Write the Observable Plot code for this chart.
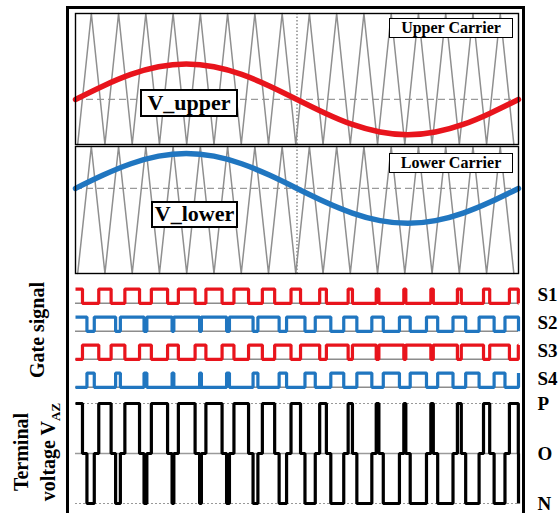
<!DOCTYPE html>
<html><head><meta charset="utf-8">
<script src="https://cdn.jsdelivr.net/npm/d3@7"></script>
<script src="https://cdn.jsdelivr.net/npm/@observablehq/plot@0.6"></script>
<style>
body{margin:0;background:#fff;}
#wrap{position:relative;width:560px;height:513px;overflow:hidden;font-family:"Liberation Serif","Times New Roman",serif;background:#fff;}
.pl{position:absolute;left:0;}
.box{position:absolute;background:#fff;border:2px solid #000;font-family:"Liberation Serif","Times New Roman",serif;font-weight:bold;text-align:center;box-sizing:border-box;white-space:nowrap;color:#000;}
.rot{position:absolute;transform:translate(-50%,-50%) rotate(-90deg);font-family:"Liberation Serif","Times New Roman",serif;font-weight:bold;font-size:20px;white-space:nowrap;text-align:center;line-height:27px;color:#000;}
#frame{position:absolute;left:66px;top:6px;width:459px;height:520px;border:3.5px solid #000;border-bottom:none;box-sizing:border-box;pointer-events:none;}
</style></head><body><div id="wrap"></div>
<script>
// ---- data ----
const tMin = -0.08, tMax = 16.17;               // time axis in carrier periods
const carrierT = [0,0.5,1,1.5,2,2.5,3,3.5,4,4.5,5,5.5,6,6.5,7,7.5,8,8.5,9,9.5,10,10.5,11,11.5,12,12.5,13,13.5,14,14.5,15,15.5,16];
const carrierV = [0,1,0,1,0,1,0,1,0,1,0,1,0,1,0,1,0,1,0,1,0,1,0,1,0,1,0,1,0,1,0,1,0];
const sineT    = [-0.08,0.936,1.951,2.967,3.983,4.998,6.014,7.029,8.045,9.061,10.076,11.092,12.108,13.123,14.139,15.154,16.17];
const upperRef = [0.344,0.447,0.535,0.593,0.614,0.593,0.535,0.447,0.344,0.241,0.153,0.095,0.074,0.095,0.153,0.241,0.344];
const lowerRef = [0.670,0.775,0.864,0.924,0.945,0.924,0.864,0.775,0.670,0.565,0.476,0.416,0.395,0.416,0.476,0.565,0.670];
const upperCenter = [0.344], lowerCenter = [0.670];
const zeroCrossT = [8.045];
const troughT  = [0,1,2,3,4,5,6,7,8,9,10,11,12,13,14,15,16];
const s1Duty   = [0.352,0.453,0.538,0.595,0.614,0.593,0.536,0.451,0.349,0.246,0.158,0.098,0.074,0.090,0.143,0.227,0.326];
const s2Duty   = [0.679,0.782,0.868,0.925,0.945,0.924,0.866,0.779,0.675,0.570,0.481,0.420,0.395,0.411,0.465,0.551,0.652];
const gateNames = ["S1","S2","S3","S4"];
const gateColors = ["#e8141c","#2076c0","#e8141c","#2076c0"];
const levelValues = [-1,0,1];
const levelNames  = ["N","O","P"];

const RED = "#e8141c", BLUE = "#2076c0", GREY = "#8f8f8f";
const wrap = document.getElementById("wrap");
const clamp = t => Math.max(tMin, Math.min(tMax, t));

function place(el, top){ el.classList.add("pl"); el.style.top = top + "px"; wrap.appendChild(el); }

function carrierPanel(ref, center, color, top, height){
  const carrier = carrierT.map((t,i)=>({t, v: carrierV[i]}));
  const sine = sineT.map((t,i)=>({t, v: ref[i]}));
  const p = Plot.plot({
    width:560, height, marginLeft:75, marginRight:42, marginTop:3, marginBottom:3,
    x:{domain:[tMin,tMax], axis:null}, y:{domain:[0,1], axis:null},
    style:{background:"transparent", overflow:"visible"},
    marks:[
      Plot.ruleY(center, {stroke:"#9a9a9a", strokeWidth:1.3, strokeDasharray:"7,4"}),
      Plot.ruleX(zeroCrossT, {stroke:"#8a8a8a", strokeWidth:1.5, strokeDasharray:"1.5,2"}),
      Plot.line(carrier, {x:"t", y:"v", stroke:GREY, strokeWidth:1.5}),
      Plot.line(sine, {x:"t", y:"v", curve:"natural", stroke:color, strokeWidth:5.5}),
      Plot.frame({stroke:"#000", strokeWidth:1.4})
    ]
  });
  place(p, top);
}
carrierPanel(upperRef, upperCenter, RED, 10, 137);
carrierPanel(lowerRef, lowerCenter, BLUE, 143, 133);

// ---- gate signals ----
function pulseTrain(sig, duty, invert){
  const hi = invert ? 0 : 1, lo = invert ? 1 : 0;
  let rows = [];
  troughT.forEach((k,i)=>{
    const a = clamp(k - duty[i]/2), b = clamp(k + duty[i]/2);
    if (i === 0 && a > tMin) rows.push({sig, t:tMin, v:lo});
    rows.push({sig, t:a, v:hi}, {sig, t:b, v:lo});
  });
  rows.push({sig, t:tMax, v:rows[rows.length-1].v});
  return rows;
}
const gateData = [
  ...pulseTrain("S1", s1Duty, false),
  ...pulseTrain("S2", s2Duty, false),
  ...pulseTrain("S3", s1Duty, true),
  ...pulseTrain("S4", s2Duty, true)
];
const baseData = gateNames.map(s=>({sig:s, v:0}));
const gatePlot = Plot.plot({
  width:560, height:113, marginLeft:75, marginRight:42, marginTop:0, marginBottom:0,
  x:{domain:[tMin,tMax], axis:null},
  y:{domain:[0,1], axis:null, insetTop:8.6, insetBottom:5.2},
  fy:{domain:gateNames, axis:"right", label:null, tickSize:0, tickPadding:19, padding:0},
  style:{background:"transparent", overflow:"visible", fontFamily:"'Liberation Serif', serif", fontSize:"19px", fontWeight:"bold", color:"#000"},
  marks:[
    Plot.ruleY(baseData, {y:"v", fy:"sig", stroke:"#8c8c8c", strokeWidth:1.6}),
    ...gateNames.map((s,i)=>Plot.line(gateData.filter(d=>d.sig===s), {x:"t", y:"v", fy:"sig", curve:"step-after", stroke:gateColors[i], strokeWidth:3.2, strokeLinejoin:"miter", strokeLinecap:"butt"}))
  ]
});
place(gatePlot, 279);

// ---- terminal voltage ----
let vaz = [];
troughT.forEach((k,i)=>{
  vaz.push({t:clamp(k - s2Duty[i]/2), v:0},
           {t:clamp(k - s1Duty[i]/2), v:1},
           {t:clamp(k + s1Duty[i]/2), v:0},
           {t:clamp(k + s2Duty[i]/2), v:-1});
});
vaz.push({t:tMax, v:vaz[vaz.length-1].v});
vaz = vaz.filter((d,i)=> !(i < vaz.length-1 && (d.t===tMin || d.t===tMax) && vaz[i+1].t===d.t));
const vazPlot = Plot.plot({
  width:560, height:113, marginLeft:75, marginRight:42, marginTop:7, marginBottom:6,
  x:{domain:[tMin,tMax], axis:null},
  y:{domain:[-1,1], axis:"right", ticks:levelValues, tickFormat:d=>levelNames[levelValues.indexOf(d)], tickSize:0, tickPadding:19, label:null},
  style:{background:"transparent", overflow:"visible", fontFamily:"'Liberation Serif', serif", fontSize:"19px", fontWeight:"bold", color:"#000"},
  marks:[
    Plot.ruleY([levelValues[0], levelValues[2]], {stroke:"#999", strokeWidth:1.2, strokeDasharray:"2,2"}),
    Plot.ruleY([levelValues[1]], {stroke:"#9a9a9a", strokeWidth:1.4}),
    Plot.line(vaz, {x:"t", y:"v", curve:"step-after", stroke:"#000", strokeWidth:3.2, strokeLinejoin:"miter", strokeLinecap:"butt"})
  ]
});
place(vazPlot, 396);

// ---- annotations ----
function box(text, left, top, w, h, fs, bw){
  const d = document.createElement("div"); d.className = "box";
  Object.assign(d.style, {left:left+"px", top:top+"px", width:w+"px", height:h+"px", fontSize:fs+"px", lineHeight:(h-2*bw)+"px", borderWidth:bw+"px"});
  d.textContent = text; wrap.appendChild(d);
}
box("V_upper", 140, 89, 98, 28, 22, 2.5);
box("Upper Carrier", 389, 18, 124, 20, 16, 1.5);
box("V_lower", 151, 201, 87, 27, 22, 2.5);
box("Lower Carrier", 389, 153, 124, 20, 16, 1.5);

const g = document.createElement("div"); g.className = "rot";
Object.assign(g.style, {left:"37px", top:"330px"}); g.textContent = "Gate signal"; wrap.appendChild(g);
const tv = document.createElement("div"); tv.className = "rot";
Object.assign(tv.style, {left:"38px", top:"452px"});
tv.innerHTML = "Terminal<br>voltage V<sub style='font-size:13px'>AZ</sub>"; wrap.appendChild(tv);

const fr = document.createElement("div"); fr.id = "frame"; wrap.appendChild(fr);
</script></body></html>
